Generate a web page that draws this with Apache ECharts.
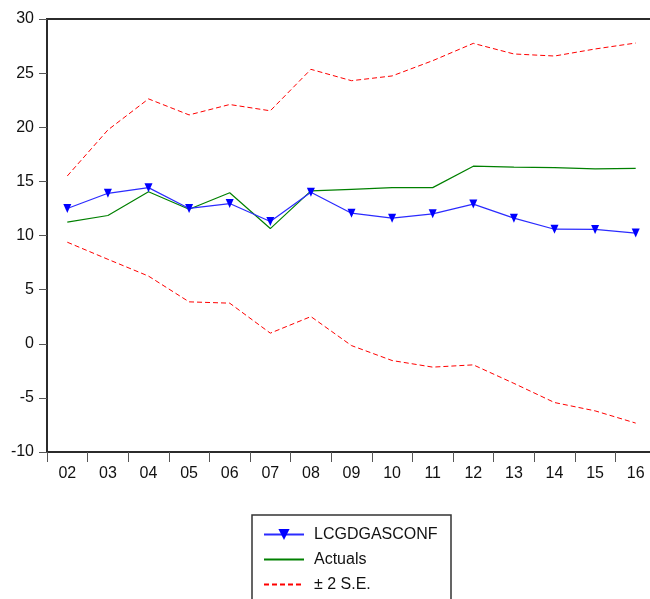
<!DOCTYPE html>
<html>
<head>
<meta charset="utf-8">
<script src="https://cdn.jsdelivr.net/npm/echarts@6/dist/echarts.min.js"></script>
<style>
  html, body { margin: 0; padding: 0; background: #fff; }
  #chart { width: 650px; height: 599px; }
</style>
</head>
<body>
<div id="chart"></div>
<script>
// Years (two-digit labels) on the category axis
const years = ['02', '03', '04', '05', '06', '07', '08', '09', '10', '11', '12', '13', '14', '15', '16'];

// Forecast LCGDGASCONF
const forecast = [12.5, 13.9, 14.42, 12.5, 12.95, 11.3, 14.0, 12.06, 11.6, 12.0, 12.9, 11.6, 10.58, 10.56, 10.22];

// Actual values
const actuals = [11.23, 11.85, 14.04, 12.42, 13.95, 10.64, 14.12, 14.27, 14.42, 14.42, 16.4, 16.31, 16.27, 16.15, 16.21];

// Forecast +/- 2 standard errors
const upperBand = [15.5, 19.75, 22.62, 21.14, 22.1, 21.52, 25.35, 24.3, 24.74, 26.15, 27.75, 26.77, 26.58, 27.23, 27.78];
const lowerBand = [9.38, 7.8, 6.25, 3.87, 3.75, 0.98, 2.51, -0.17, -1.55, -2.16, -1.95, -3.66, -5.43, -6.2, -7.33];

// Value-axis ticks
const yMin = -10, yMax = 30, yStep = 5;

const chart = echarts.init(document.getElementById('chart'), null, { renderer: 'canvas' });

const fontFamily = 'Liberation Sans, Arial, sans-serif';
const bandLine = { color: '#ff0000', width: 1, type: [5, 3] };
const hiddenSymbol = { opacity: 0 };

chart.setOption({
  animation: false,
  backgroundColor: '#ffffff',
  textStyle: { fontFamily: fontFamily },
  grid: {
    left: 47, top: 19, width: 609, height: 433,
    outerBoundsMode: 'none',
    show: true, borderColor: '#2b2b2b', borderWidth: 2, backgroundColor: 'transparent'
  },
  xAxis: {
    type: 'category',
    data: years,
    boundaryGap: true,
    axisLine: { show: true, onZero: false, lineStyle: { color: '#2b2b2b', width: 2 } },
    axisTick: { show: true, inside: false, length: 10, alignWithLabel: false, lineStyle: { color: '#555', width: 1 } },
    axisLabel: { color: '#111', fontSize: 16, margin: 14, fontFamily: fontFamily },
    splitLine: { show: false }
  },
  yAxis: {
    type: 'value',
    min: yMin, max: yMax, interval: yStep,
    axisLine: { show: true, lineStyle: { color: '#2b2b2b', width: 2 } },
    axisTick: { show: true, inside: false, length: 8, lineStyle: { color: '#555', width: 1 } },
    axisLabel: { color: '#111', fontSize: 16, margin: 13, fontFamily: fontFamily, padding: [0, 0, 9, 0] },
    splitLine: { show: false }
  },
  legend: {
    orient: 'vertical',
    left: 263, top: 526, height: 80,
    padding: 0,
    itemWidth: 40, itemHeight: 14, itemGap: 8,
    textStyle: { color: '#111', fontSize: 16, lineHeight: 17, fontFamily: fontFamily, padding: [0, 0, 0, 5] },
    data: [
      { name: 'LCGDGASCONF' },
      { name: 'Actuals', itemStyle: hiddenSymbol },
      { name: '± 2 S.E.', itemStyle: hiddenSymbol }
    ]
  },
  graphic: [
    {
      type: 'rect',
      shape: { x: 252, y: 515, width: 199, height: 100 },
      style: { fill: 'none', stroke: '#333', lineWidth: 1.5 },
      z: 1
    }
  ],
  series: [
    {
      name: '± 2 S.E.', type: 'line', data: upperBand,
      symbol: 'none', lineStyle: bandLine, itemStyle: { color: '#ff0000' }, z: 2
    },
    {
      name: '± 2 S.E.', type: 'line', data: lowerBand,
      symbol: 'none', lineStyle: bandLine, itemStyle: { color: '#ff0000' }, z: 2
    },
    {
      name: 'Actuals', type: 'line', data: actuals,
      symbol: 'none', lineStyle: { color: '#008000', width: 1.2 }, itemStyle: { color: '#008000' }, z: 3
    },
    {
      name: 'LCGDGASCONF', type: 'line', data: forecast,
      symbol: 'triangle', symbolRotate: 180, symbolSize: [8, 9], showSymbol: true,
      lineStyle: { color: '#2b2bff', width: 1.2 }, itemStyle: { color: '#0000ff' }, z: 4
    }
  ]
});
</script>
</body>
</html>
